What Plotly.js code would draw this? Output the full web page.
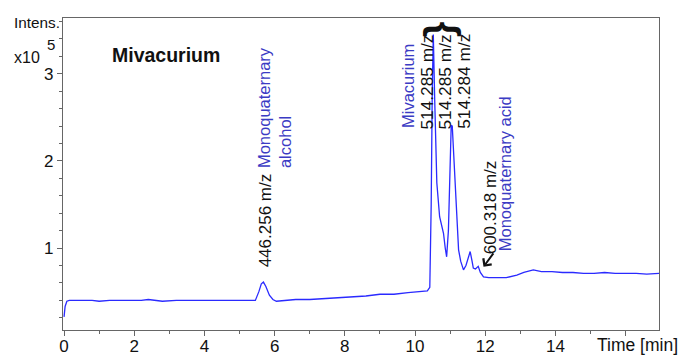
<!DOCTYPE html>
<html>
<head>
<meta charset="utf-8">
<script src="https://cdn.plot.ly/plotly-3.0.1.min.js"></script>
<style>html,body{margin:0;padding:0;background:#fff;}#chart{width:682px;height:355px;}</style>
</head>
<body>
<div id="chart"></div>
<script>
// Time in minutes
const timeMin = [0, 0.03, 0.08, 0.15, 0.3, 0.5, 0.8, 1.0, 1.3, 1.6, 2.0, 2.2, 2.4, 2.6, 2.8, 3.2, 3.6, 4.0, 4.4, 4.8, 5.2, 5.45,
  5.55, 5.62, 5.68, 5.75, 5.85, 5.95, 6.05, 6.3, 6.6, 7.0, 7.4, 7.8, 8.2, 8.6, 9.0, 9.4, 9.8, 10.1, 10.35,
  10.42, 10.46, 10.49, 10.52, 10.56, 10.62, 10.7, 10.76, 10.81, 10.86, 10.9, 10.95, 11.0, 11.03, 11.06, 11.1, 11.15,
  11.24, 11.3, 11.38, 11.45, 11.52, 11.57, 11.62, 11.66, 11.72, 11.8, 11.86, 11.95, 12.1, 12.3, 12.6, 12.9,
  13.1, 13.37, 13.6, 13.9, 14.2, 14.5, 14.8, 15.1, 15.4, 15.7, 16.0, 16.3, 16.6, 16.95];
// Intensity (x10^5)
const intensity = [0.21, 0.33, 0.39, 0.40, 0.40, 0.40, 0.40, 0.39, 0.40, 0.40, 0.40, 0.40, 0.41, 0.40, 0.39, 0.40, 0.40, 0.40, 0.40, 0.40, 0.40, 0.40,
  0.50, 0.59, 0.61, 0.56, 0.46, 0.41, 0.39, 0.40, 0.41, 0.41, 0.42, 0.43, 0.44, 0.45, 0.47, 0.47, 0.49, 0.50, 0.51,
  0.55, 1.5, 2.8, 3.45, 2.7, 1.75, 1.36, 1.25, 1.17, 1.0, 0.90, 1.2, 2.2, 2.41, 2.40, 2.1, 1.6,
  0.98, 0.85, 0.75, 0.80, 0.90, 0.96, 0.86, 0.77, 0.76, 0.79, 0.72, 0.67, 0.66, 0.66, 0.66, 0.69,
  0.72, 0.75, 0.73, 0.73, 0.72, 0.72, 0.71, 0.71, 0.72, 0.71, 0.71, 0.71, 0.70, 0.71];

const xTickVals = [0, 2, 4, 6, 8, 10, 12, 14, 16];
const xTickText = ['0', '2', '4', '6', '8', '10', '12', '14', ''];
const yTickVals = [1, 2, 3];
const yTickText = ['1', '2', '3'];

const FONT = 'Liberation Sans, Arial, sans-serif';
const BLUE_LBL = '#3b3bc4';
const LINE_BLUE = '#2a2aff';

const rot = (x, y, text, color, size, extra) => Object.assign({
  x: x, y: y, xref: 'x', yref: 'y', text: text, textangle: -90, showarrow: false,
  font: {family: FONT, size: size, color: color}, xanchor: 'center', yanchor: 'middle'
}, extra || {});

const trace = {
  x: timeMin, y: intensity, type: 'scatter', mode: 'lines',
  line: {color: LINE_BLUE, width: 1.3}, hoverinfo: 'skip'
};

const annotations = [
  {xref: 'paper', yref: 'paper', x: -0.086, y: 0.987, text: 'Intens.', showarrow: false,
   xanchor: 'left', yanchor: 'middle', font: {family: FONT, size: 15.3, color: '#111'}},
  {xref: 'paper', yref: 'paper', x: -0.086, y: 0.875, text: 'x10', showarrow: false,
   xanchor: 'left', yanchor: 'middle', font: {family: FONT, size: 16, color: '#111'}},
  {xref: 'paper', yref: 'paper', x: -0.031, y: 0.915, text: '5', showarrow: false,
   xanchor: 'left', yanchor: 'middle', font: {family: FONT, size: 15, color: '#111'}},
  {xref: 'paper', yref: 'paper', x: 0.079, y: 0.881, text: '<b>Mivacurium</b>', showarrow: false,
   xanchor: 'left', yanchor: 'middle', font: {family: FONT, size: 19.5, color: '#111'}},
  {xref: 'paper', yref: 'paper', x: 1.035, y: -0.048, text: 'Time [min]', showarrow: false,
   xanchor: 'right', yanchor: 'middle', font: {family: FONT, size: 17.5, color: '#111'}},
  rot(5.73, 1.32, '446.256 m/z', '#111', 17),
  rot(5.99, 2.61, 'Monoquaternary<br>alcohol', BLUE_LBL, 16.5, {align: 'left'}),
  rot(9.80, 2.86, 'Mivacurium', BLUE_LBL, 16.5),
  rot(10.34, 2.91, '514.285 m/z', '#111', 17.3),
  rot(10.85, 2.91, '514.285 m/z', '#111', 17.3),
  rot(11.37, 2.91, '514.284 m/z', '#111', 17.3),
  rot(12.14, 1.47, '600.318 m/z', '#111', 17),
  rot(12.57, 1.85, 'Monoquaternary acid', BLUE_LBL, 16.5),
  {x: 10.85, y: 3.51, xref: 'x', yref: 'y', text: '<b>{</b>', textangle: 90, showarrow: false,
   font: {family: FONT, size: 40, color: '#111'}, xanchor: 'center', yanchor: 'middle'},
  {x: 11.95, y: 0.785, xref: 'x', yref: 'y', text: '', showarrow: true, ax: 11, ay: -15,
   arrowhead: 4, arrowsize: 1, arrowwidth: 2, arrowcolor: '#111', standoff: 0, startstandoff: 0}
];

const axisCommon = {
  showgrid: false, zeroline: false, showline: true, linecolor: '#666', linewidth: 1.2,
  mirror: true, ticks: 'outside', tickcolor: '#666', ticklen: 5, tickwidth: 1,
  tickfont: {family: FONT, size: 17, color: '#111'}, fixedrange: true
};

const layout = {
  width: 682, height: 355,
  margin: {l: 63, r: 23, t: 18, b: 25},
  paper_bgcolor: '#fff', plot_bgcolor: '#fff',
  showlegend: false,
  xaxis: Object.assign({}, axisCommon, {
    range: [-0.03, 16.95], tickmode: 'array', tickvals: xTickVals, ticktext: xTickText,
    ticklabelstandoff: -5,
    minor: {tick0: 0, dtick: 1, ticks: 'outside', ticklen: 3, tickcolor: '#666'}
  }),
  yaxis: Object.assign({}, axisCommon, {
    range: [0.06, 3.64], tickmode: 'array', tickvals: yTickVals, ticktext: yTickText,
    minor: {tick0: 0, dtick: 0.2, ticks: 'outside', ticklen: 3, tickcolor: '#666'}
  }),
  annotations: annotations
};

Plotly.newPlot('chart', [trace], layout, {staticPlot: true, displayModeBar: false});
</script>
</body>
</html>
